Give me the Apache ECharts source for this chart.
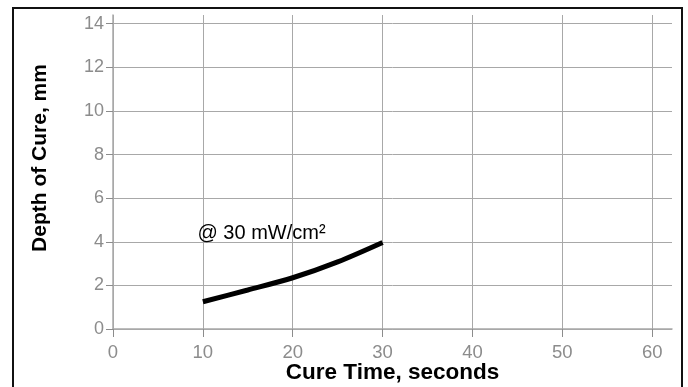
<!DOCTYPE html>
<html>
<head>
<meta charset="utf-8">
<script src="https://cdn.jsdelivr.net/npm/echarts@6/dist/echarts.min.js"></script>
<style>
html,body{margin:0;padding:0;background:#fff;}
#chart{width:688px;height:387px;}
</style>
</head>
<body>
<div id="chart"></div>
<script>
// Data
const cureTime = [10, 15, 20, 25, 30];          // seconds
const depthOfCure = [1.25, 1.79, 2.35, 3.08, 3.97]; // mm
const xTicks = [0, 10, 20, 30, 40, 50, 60];
const yTicks = [0, 2, 4, 6, 8, 10, 12, 14];
const annotationText = '@ 30 mW/cm²';
const xName = 'Cure Time, seconds';
const yName = 'Depth of Cure, mm';

const chart = echarts.init(document.getElementById('chart'), null, {renderer: 'canvas'});
const font = '"Liberation Sans", Arial, sans-serif';
const grey = '#8c8c8c';
const gridGrey = '#a8a8a8';

chart.setOption({
  animation: false,
  backgroundColor: '#fff',
  textStyle: {fontFamily: font},
  grid: {left: 113, right: 16, top: 15, bottom: 58, containLabel: false, outerBoundsMode: 'none'},
  xAxis: {
    type: 'value', min: 0, max: 62.2, interval: 10,
    name: xName, nameLocation: 'middle', nameGap: 32, nameMoveOverlap: false,
    nameTextStyle: {fontFamily: font, fontSize: 22.5, fontWeight: 'bold', color: '#000'},
    axisLine: {show: true, lineStyle: {color: gridGrey, width: 1.5}},
    axisTick: {show: true, length: 8, lineStyle: {color: grey}},
    axisLabel: {fontFamily: font, fontSize: 18.5, color: grey, margin: 14, showMaxLabel: false,
      formatter: v => xTicks.includes(v) ? String(v) : ''},
    splitLine: {show: true, showMaxLine: false, lineStyle: {color: gridGrey, width: 1}}
  },
  yAxis: {
    type: 'value', min: 0, max: 14.4, interval: 2,
    name: yName, nameLocation: 'middle', nameGap: 62, nameRotate: 90, nameMoveOverlap: false,
    nameTextStyle: {fontFamily: font, fontSize: 21, fontWeight: 'bold', color: '#000', padding: [0, 0, 0, 28]},
    axisLine: {show: true, lineStyle: {color: gridGrey, width: 1.5}},
    axisTick: {show: true, length: 7, lineStyle: {color: grey}},
    axisLabel: {fontFamily: font, fontSize: 18, color: grey, margin: 9, showMaxLabel: false,
      formatter: v => yTicks.includes(v) ? String(v) : ''},
    splitLine: {show: true, showMaxLine: false, lineStyle: {color: gridGrey, width: 1}}
  },
  series: [{
    type: 'line',
    data: cureTime.map((t, i) => [t, depthOfCure[i]]),
    smooth: 0.3,
    symbol: 'none',
    lineStyle: {color: '#000', width: 5},
    markPoint: {
      silent: true,
      symbol: 'circle', symbolSize: 0,
      data: [{coord: [9.4, 4.4], value: annotationText}],
      label: {show: true, position: 'right', distance: 0, formatter: annotationText,
        fontFamily: font, fontSize: 20, color: '#000'}
    }
  }],
  graphic: [{
    type: 'rect', silent: true, z: 100,
    shape: {x: 13, y: 8, width: 669, height: 400},
    style: {fill: 'none', stroke: '#111', lineWidth: 2}
  }]
});
</script>
</body>
</html>
